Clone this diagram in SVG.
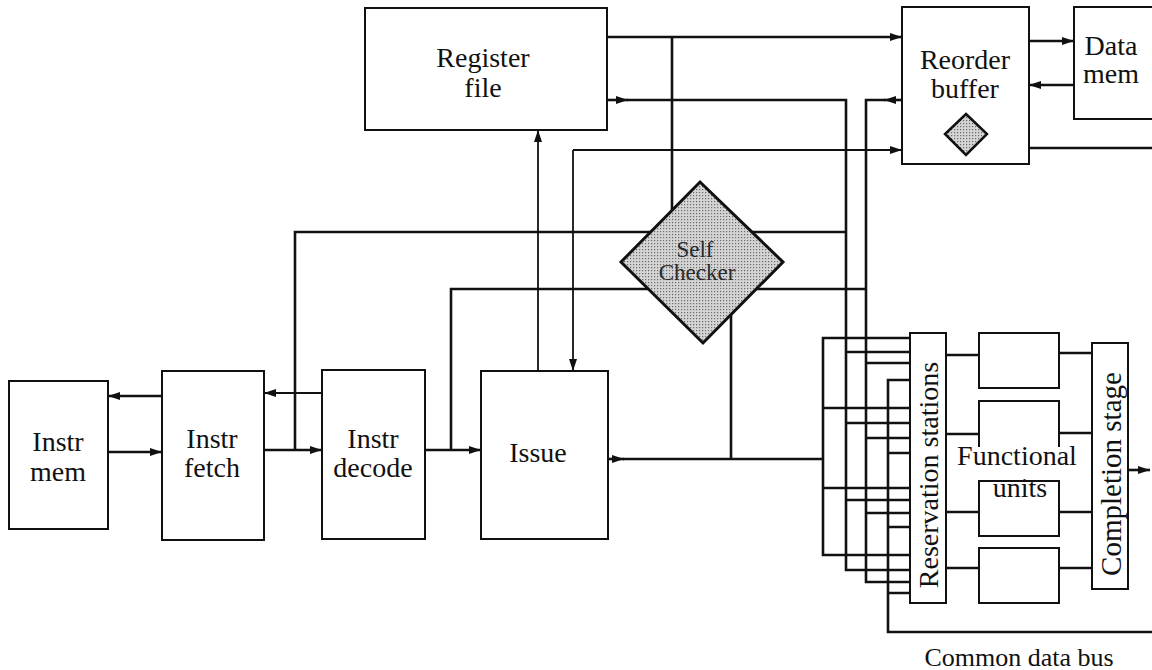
<svg xmlns="http://www.w3.org/2000/svg" width="1152" height="670" viewBox="0 0 1152 670">
<style>
.box{fill:#fff;stroke:#111;stroke-width:2}
.T{fill:none;stroke:#111;stroke-width:2.6}
.t{fill:none;stroke:#111;stroke-width:1.8}
.lbl{font-family:"Liberation Serif","Times New Roman",serif;font-size:28px;fill:#111;text-anchor:middle}
.sc{font-family:"Liberation Serif","Times New Roman",serif;font-size:23px;fill:#2a2a2a;text-anchor:middle}
.dia{stroke:#111;stroke-width:3;fill:url(#dots)}
</style>
<defs>
<pattern id="dots" width="3" height="3" patternUnits="userSpaceOnUse">
<rect width="3" height="3" fill="#d4d4d4"/>
<rect width="1.2" height="1.2" fill="#6a6a6a"/>
</pattern>
<marker id="ah" viewBox="0 0 12 8" refX="12" refY="4" markerWidth="12" markerHeight="8" markerUnits="userSpaceOnUse" orient="auto">
<path d="M0,0 L12,4 L0,8 Z" fill="#111"/>
</marker>
</defs>

<g id="connectors">
<path class="T" d="M162,396 H108" marker-end="url(#ah)"/>
<path class="T" d="M108,452 H162" marker-end="url(#ah)"/>
<path class="T" d="M264,450 H322" marker-end="url(#ah)"/>
<path class="t" d="M322,393 H264" marker-end="url(#ah)"/>
<path class="T" d="M295,450 V232 H846"/>
<path class="T" d="M425,450 H481" marker-end="url(#ah)"/>
<path class="T" d="M451,450 V289 H866"/>
<path class="t" d="M538,371 V130" marker-end="url(#ah)"/>
<path class="t" d="M573,150 H902" marker-end="url(#ah)"/>
<path class="t" d="M573,150 V371" marker-end="url(#ah)"/>
<path class="T" d="M607,37 H902" marker-end="url(#ah)"/>
<path class="T" d="M672,37 V212"/>
<path class="T" d="M607,100 H628" marker-end="url(#ah)"/>
<path class="T" d="M627,100 H846 V570 H910"/>
<path class="T" d="M902,100 H884" marker-end="url(#ah)"/>
<path class="T" d="M885,100 H866 V582 H910"/>
<path class="T" d="M608,459 H624" marker-end="url(#ah)"/>
<path class="T" d="M623,459 H823"/>
<path class="T" d="M731,314 V459"/>
<path class="T" d="M910,338 H823 V555 H910"/>
<path class="T" d="M910,380 H888 V632 H1152"/>
<path class="T" d="M823,408 H910 M823,488 H910 M846,352 H910 M846,423 H910 M846,500 H910 M866,363 H910 M866,438 H910 M866,513 H910 M888,453 H910 M888,527 H910 M888,593 H910"/>
<path class="T" d="M946,355 H979 M946,434 H979 M946,512 H979 M946,568 H979 M1059,353 H1092 M1059,433 H1092 M1059,512 H1092 M1059,568 H1092"/>
<path class="T" d="M1128,470 H1150" marker-end="url(#ah)"/>
<path class="T" d="M1029,41 H1074" marker-end="url(#ah)"/>
<path class="T" d="M1074,85 H1029" marker-end="url(#ah)"/>
<path class="T" d="M1029,148 H1152"/>
</g>

<g id="instr-mem"><rect class="box" x="9" y="381" width="99" height="148"/><text class="lbl" x="58" y="451">Instr</text><text class="lbl" x="58" y="481">mem</text></g>
<g id="instr-fetch"><rect class="box" x="162" y="371" width="102" height="169"/><text class="lbl" x="212" y="448">Instr</text><text class="lbl" x="212" y="477">fetch</text></g>
<g id="instr-decode"><rect class="box" x="322" y="370" width="103" height="169"/><text class="lbl" x="373" y="448">Instr</text><text class="lbl" x="373" y="477">decode</text></g>
<g id="issue"><rect class="box" x="481" y="371" width="127" height="168"/><text class="lbl" x="538" y="462">Issue</text></g>
<g id="register-file"><rect class="box" x="365" y="8" width="242" height="122"/><text class="lbl" x="483" y="67">Register</text><text class="lbl" x="483" y="97">file</text></g>
<g id="reorder-buffer"><rect class="box" x="902" y="7" width="127" height="157"/><text class="lbl" x="965" y="69">Reorder</text><text class="lbl" x="965" y="98">buffer</text><path class="dia" d="M966,114 L987,134 L966,155 L945,134 Z" style="stroke-width:2.5"/></g>
<g id="data-mem"><rect class="box" x="1074" y="7" width="90" height="112"/><text class="lbl" x="1111" y="55">Data</text><text class="lbl" x="1111" y="83">mem</text></g>
<g id="self-checker"><path class="dia" d="M700,182 L783,262 L703,343 L621,262 Z"/><text class="sc" x="695" y="257">Self</text><text class="sc" x="697" y="280">Checker</text></g>
<g id="reservation-stations"><rect class="box" x="910" y="333" width="36" height="270"/><text class="lbl" transform="translate(938,475) rotate(-90)" x="0" y="0">Reservation stations</text></g>
<g id="functional-units">
<rect class="box" x="979" y="333" width="80" height="55"/>
<rect class="box" x="979" y="401" width="80" height="55"/>
<rect class="box" x="979" y="481" width="80" height="55"/>
<rect class="box" x="979" y="548" width="80" height="55"/>
<rect x="955" y="447" width="126" height="21" fill="#fff"/>
<text class="lbl" x="1017" y="465">Functional</text>
<text class="lbl" x="1020" y="497">units</text>
</g>
<g id="completion-stage"><rect class="box" x="1092" y="343" width="36" height="246"/><text class="lbl" transform="translate(1121,474) rotate(-90)" x="0" y="0" style="font-size:29px">Completion stage</text></g>
<g id="common-data-bus"><text class="lbl" x="1019" y="666" style="font-size:26px">Common data bus</text></g>
</svg>
